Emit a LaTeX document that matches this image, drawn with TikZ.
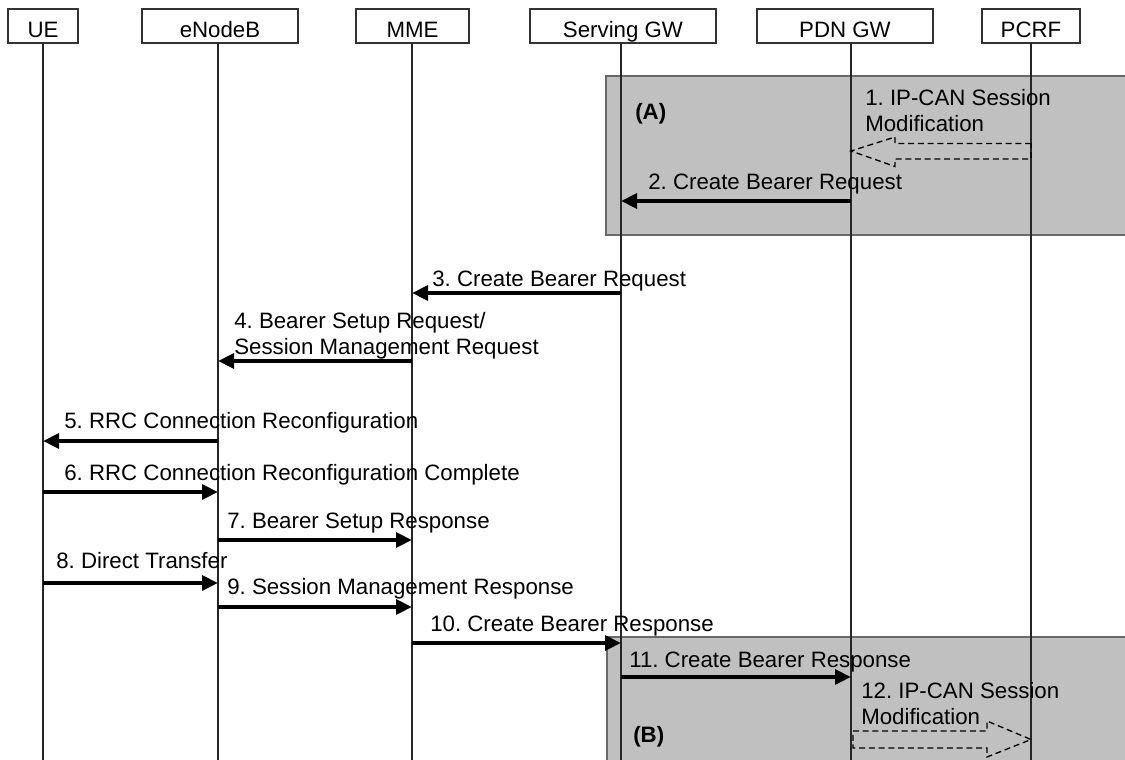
\documentclass[tikz,border=0pt]{standalone}
\usepackage{fontspec}
\setmainfont{Liberation Sans}
\usetikzlibrary{arrows.meta}
\definecolor{zonegray}{RGB}{192,192,192}
\definecolor{zoneline}{RGB}{105,105,105}
\frenchspacing
\begin{document}
\begin{tikzpicture}[x=0.75pt,y=-0.75pt,
  every node/.style={font=\fontsize{16.7}{19.5}\selectfont},
  hdr/.style={draw=black!80,line width=0.8pt,minimum height=25.5pt,inner sep=0pt,text height=17.4pt,text depth=0pt},
  life/.style={line width=0.8pt,draw=black!85},
  msg/.style={line width=3pt,-{Triangle[length=12pt,width=11pt]}},
  lbl/.style={anchor=base west,inner sep=0pt,align=left},
  zone/.style={fill=zonegray,draw=zoneline,line width=0.8pt},
  dblock/.style={draw=black,line width=1pt,dash pattern=on 4.5pt off 2.8pt,line join=miter},
  zlbl/.style={anchor=west,inner sep=0pt,font=\fontsize{16.7}{19.5}\selectfont\bfseries}
]
\useasboundingbox (0,0) rectangle (1125,760);
% shaded zones
\path[zone] (1135,76) -- (606,76) -- (606,235) -- (1135,235);
\path[zone] (1135,637) -- (607,637) -- (607,770) -- (1135,770);
% header boxes
\node[hdr,minimum width=52.5pt] (ue) at (43,26) {UE};
\node[hdr,minimum width=117pt] (enb) at (220,26) {eNodeB};
\node[hdr,minimum width=84.75pt] (mme) at (412.5,26) {MME};
\node[hdr,minimum width=139.5pt] (sgw) at (623,26) {Serving GW};
\node[hdr,minimum width=132pt] (pdn) at (845,26) {PDN GW};
\node[hdr,minimum width=73.5pt] (pcrf) at (1031,26) {PCRF};
% lifeline tops
\coordinate (lue) at (43,43);
\coordinate (lenb) at (218,43);
\coordinate (lmme) at (412,43);
\coordinate (lsgw) at (621,43);
\coordinate (lpdn) at (851,43);
\coordinate (lpcrf) at (1031,43);
\foreach \l in {lue,lenb,lmme,lsgw,lpdn,lpcrf}
  \draw[life] (\l) -- (\l |- 0,762);
% zone labels
\node[zlbl] (za) at (635,114) {(A)};
\node[zlbl] (zb) at (633,737) {(B)};
% 1. dashed block arrow PCRF -> PDN GW
\draw[dblock] (lpcrf |- 0,143.5) -- (895,143.5) -- (895,137) -- (lpdn |- 0,151)
  -- (895,166.5) -- (895,159) -- (lpcrf |- 0,159) -- cycle;
\node[lbl] (t1) at (865,131) {1. IP-CAN Session\\Modification};
% 2
\draw[msg] (lpdn |- 0,201) -- (lsgw |- 0,201);
\node[lbl] (t2) at (648,189) {2. Create Bearer Request};
% 3
\draw[msg] (lsgw |- 0,293) -- (lmme |- 0,293);
\node[lbl] (t3) at (432,286) {3. Create Bearer Request};
% 4
\draw[msg] (lmme |- 0,361) -- (lenb |- 0,361);
\node[lbl] (t4) at (234,354) {4. Bearer Setup Request/\\Session Management Request};
% 5
\draw[msg] (lenb |- 0,441) -- (lue |- 0,441);
\node[lbl] (t5) at (64,428) {5. RRC Connection Reconfiguration};
% 6
\draw[msg] (lue |- 0,492) -- (lenb |- 0,492);
\node[lbl] (t6) at (64,480) {6. RRC Connection Reconfiguration Complete};
% 7
\draw[msg] (lenb |- 0,540) -- (lmme |- 0,540);
\node[lbl] (t7) at (227,528) {7. Bearer Setup Response};
% 8
\draw[msg] (lue |- 0,583) -- (lenb |- 0,583);
\node[lbl] (t8) at (56,568) {8. Direct Transfer};
% 9
\draw[msg] (lenb |- 0,607) -- (lmme |- 0,607);
\node[lbl] (t9) at (227,594) {9. Session Management Response};
% 10
\draw[msg] (lmme |- 0,643) -- (lsgw |- 0,643);
\node[lbl] (t10) at (430,631) {10. Create Bearer Response};
% 11
\draw[msg] (lsgw |- 0,677) -- (lpdn |- 0,677);
\node[lbl] (t11) at (629,667) {11. Create Bearer Response};
% 12. dashed block arrow PDN GW -> PCRF
\draw[dblock] (853,731) -- (987,731) -- (987,721) -- (lpcrf |- 0,739.5)
  -- (987,757) -- (987,748) -- (853,748) -- cycle;
\node[lbl] (t12) at (861,724) {12. IP-CAN Session\\Modification};
\end{tikzpicture}
\end{document}
